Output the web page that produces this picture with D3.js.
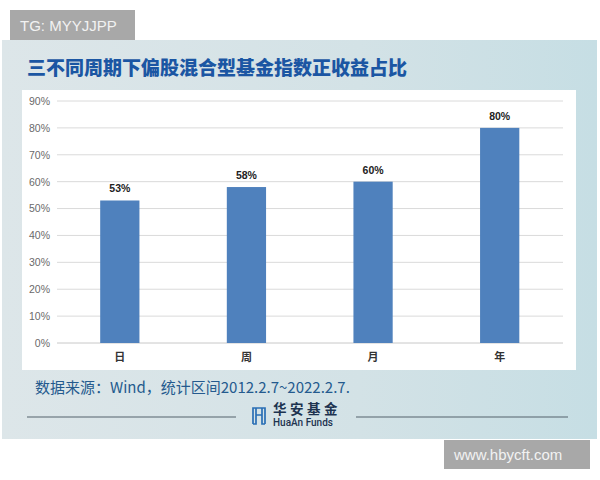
<!DOCTYPE html>
<html><head><meta charset="utf-8">
<script src="https://cdn.jsdelivr.net/npm/d3@7"></script>
<style>
html,body{margin:0;padding:0;background:#fff;}
svg{display:block;}
</style></head>
<body>
<script>
const categories = ["日", "周", "月", "年"];
const values = [0.53, 0.58, 0.60, 0.80];
const valueLabels = ["53%", "58%", "60%", "80%"];
const yTicks = [0, 0.1, 0.2, 0.3, 0.4, 0.5, 0.6, 0.7, 0.8, 0.9];
const titleText = "三不同周期下偏股混合型基金指数正收益占比";
const sourceText = "数据来源：Wind，统计区间2012.2.7~2022.2.7.";

const W = 600, H = 480;
const svg = d3.select("body").append("svg").attr("width", W).attr("height", H);
const defs = svg.append("defs");
const grad = defs.append("linearGradient").attr("id", "bg").attr("x1", "0").attr("y1", "0").attr("x2", "1").attr("y2", "0");
grad.append("stop").attr("offset", "0").attr("stop-color", "#dde6e9");
grad.append("stop").attr("offset", "0.6").attr("stop-color", "#d3e2e6");
grad.append("stop").attr("offset", "1").attr("stop-color", "#c6dee4");

// panel
svg.append("rect").attr("x", 2).attr("y", 40).attr("width", 595).attr("height", 399).attr("fill", "url(#bg)");

// title
svg.append("text").attr("x", 27).attr("y", 75)
  .attr("font-family", "'Noto Sans CJK SC', sans-serif").attr("font-weight", "900")
  .attr("font-size", 19).attr("fill", "#1b56a3").text(titleText);

// white chart area
svg.append("rect").attr("x", 22).attr("y", 90).attr("width", 554).attr("height", 280).attr("fill", "#ffffff");

const x = d3.scaleBand().domain(categories).range([56.5, 563]).paddingInner(0.69).paddingOuter(0.345);
const y = d3.scaleLinear().domain([0, 0.9]).range([343, 101]);

const g = svg.append("g");
// gridlines
g.selectAll("line.grid").data(yTicks).join("line")
  .attr("x1", 57).attr("x2", 563)
  .attr("y1", d => y(d)).attr("y2", d => y(d))
  .attr("stroke", d => d === 0 ? "#c8c8c8" : "#dadada").attr("stroke-width", 1);

// y axis labels
const yAxis = d3.axisLeft(y).tickValues(yTicks).tickFormat(d3.format(".0%")).tickSize(0).tickPadding(0);
const ya = g.append("g").attr("transform", "translate(50,0)").call(yAxis);
ya.select(".domain").remove();
ya.selectAll("text").attr("font-family", "'Liberation Sans', Arial, sans-serif").attr("font-size", 10.5).attr("fill", "#6a6a6a");

// bars
g.selectAll("rect.bar").data(values).join("rect")
  .attr("x", (d, i) => x(categories[i])).attr("width", x.bandwidth())
  .attr("y", d => y(d)).attr("height", d => y(0) - y(d))
  .attr("fill", "#4f81bd");

// value labels
g.selectAll("text.vl").data(values).join("text")
  .attr("x", (d, i) => x(categories[i]) + x.bandwidth() / 2)
  .attr("y", d => y(d) - 8)
  .attr("text-anchor", "middle")
  .attr("font-family", "'Liberation Sans', Arial, sans-serif").attr("font-weight", "bold")
  .attr("font-size", 10.5).attr("fill", "#222").text((d, i) => valueLabels[i]);

// x axis labels
const xAxis = d3.axisBottom(x).tickSize(0).tickPadding(0);
const xa = g.append("g").attr("transform", "translate(0,361)").call(xAxis);
xa.select(".domain").remove();
xa.selectAll("text").attr("dy", 0).attr("font-family", "'Noto Sans CJK SC', sans-serif").attr("font-weight", "bold")
  .attr("font-size", 11).attr("fill", "#333");

// source
svg.append("text").attr("x", 35).attr("y", 393)
  .attr("font-family", "'Noto Sans CJK SC', sans-serif")
  .attr("font-size", 15).attr("fill", "#245a8e").text(sourceText);

// footer lines
svg.append("line").attr("x1", 27).attr("x2", 236).attr("y1", 417).attr("y2", 417).attr("stroke", "#55626c").attr("stroke-width", 1.2);
svg.append("line").attr("x1", 356).attr("x2", 568).attr("y1", 417).attr("y2", 417).attr("stroke", "#55626c").attr("stroke-width", 1.2);

// logo icon
svg.append("path")
  .attr("d", "M253,424 V408 H265 V424 M253,424 H256 V415 H262 V424 H265 M256,408 V415 M262,408 V415")
  .attr("fill", "none").attr("stroke", "#2a6fb5").attr("stroke-width", 1.7);
svg.append("text").attr("x", 273).attr("y", 414)
  .attr("font-family", "'Noto Sans CJK SC', sans-serif").attr("font-weight", "bold")
  .attr("font-size", 13.5).attr("letter-spacing", 3.5).attr("fill", "#1d3350").text("华安基金");
svg.append("text").attr("x", 273).attr("y", 426)
  .attr("font-family", "'Roboto', 'Liberation Sans', sans-serif").attr("font-weight", "500")
  .attr("font-size", 10).attr("fill", "#1d3350").text("HuaAn Funds");

// watermarks
svg.append("rect").attr("x", 10).attr("y", 10).attr("width", 125).attr("height", 30).attr("fill", "#a8a8a8");
svg.append("text").attr("x", 20).attr("y", 31).attr("font-family", "'Liberation Sans', Arial, sans-serif")
  .attr("font-size", 15).attr("fill", "#f2f2f2").text("TG: MYYJJPP");
svg.append("rect").attr("x", 444).attr("y", 440).attr("width", 146).attr("height", 29).attr("fill", "#a8a8a8");
svg.append("text").attr("x", 454).attr("y", 460).attr("font-family", "'Liberation Sans', Arial, sans-serif")
  .attr("font-size", 15).attr("fill", "#f2f2f2").text("www.hbycft.com");
</script>
</body></html>
